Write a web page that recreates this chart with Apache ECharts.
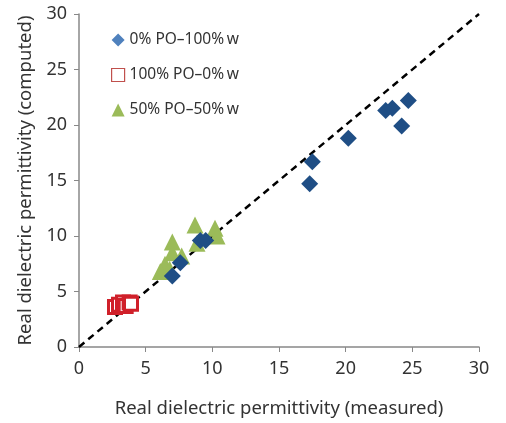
<!DOCTYPE html>
<html lang="en">
<head>
    <meta charset="UTF-8">
    <title>Real dielectric permittivity</title>
    <script src="https://cdn.jsdelivr.net/npm/echarts@6/dist/echarts.min.js"></script>
    <style>
        html, body { margin: 0; padding: 0; background: #fff; }
    </style>
</head>
<body>
<div id="chart" style="width: 506px;height:423px;"></div>

<script type="text/javascript">
    // measured, computed pairs
    var water = [
        [7.0, 6.4], [7.6, 7.6], [9.1, 9.6], [9.5, 9.6],
        [17.3, 14.7], [17.5, 16.7], [20.2, 18.8],
        [23.0, 21.3], [23.5, 21.5], [24.2, 19.9], [24.7, 22.2]
    ];
    var oil = [
        [2.7, 3.6], [3.0, 3.8], [3.3, 4.0], [3.5, 3.7], [3.8, 4.0], [3.9, 3.9]
    ];
    var mixed = [
        [8.7, 11.0], [10.2, 10.7], [10.35, 10.0], [8.85, 9.35], [7.0, 9.45],
        [7.0, 8.5], [7.7, 8.2], [6.45, 7.45], [6.1, 6.8], [6.8, 7.0]
    ];
    var parity = [[0, 0], [30, 30]];
    var names = ['0% PO\u2013100%\u2009w', '100% PO\u20130%\u2009w', '50% PO\u201350%\u2009w'];

    var chart = echarts.init(document.getElementById('chart'));
    var font = '"Noto Sans", sans-serif';

    var option = {
        animation: false,
        grid: { left: 79, right: 27, top: 14, bottom: 75 },
        legend: {
            orient: 'vertical',
            left: 106,
            top: 27,
            itemGap: 19,
            itemWidth: 13,
            itemHeight: 13,
            textStyle: { fontFamily: font, fontSize: 15.5, color: '#333' },
            data: [
                { name: names[0], icon: 'diamond', itemStyle: { color: '#4f81bd' } },
                { name: names[1], icon: 'rect', itemStyle: { color: '#fff', borderColor: '#c0504d', borderWidth: 1.2 } },
                { name: names[2], icon: 'triangle', itemStyle: { color: '#9bbb59' } }
            ]
        },
        xAxis: {
            type: 'value', min: 0, max: 30, interval: 5,
            name: 'Real dielectric permittivity (measured)',
            nameLocation: 'middle', nameGap: 52,
            nameTextStyle: { fontFamily: font, fontSize: 18.5, color: '#333' },
            axisLine: { lineStyle: { color: '#888', width: 1.5 } },
            axisTick: { inside: false, length: 5, lineStyle: { color: '#888' } },
            axisLabel: { fontFamily: font, fontSize: 18, color: '#333', margin: 13 },
            splitLine: { show: false }
        },
        yAxis: {
            type: 'value', min: 0, max: 30, interval: 5,
            name: 'Real dielectric permittivity (computed)',
            nameLocation: 'middle', nameGap: 44,
            nameTextStyle: { fontFamily: font, fontSize: 18.5, color: '#333' },
            axisLine: { show: true, lineStyle: { color: '#888', width: 1.5 } },
            axisTick: { show: true, inside: false, length: 5, lineStyle: { color: '#888' } },
            axisLabel: { fontFamily: font, fontSize: 18, color: '#333', margin: 12 },
            splitLine: { show: false }
        },
        series: [
            {
                type: 'line', data: parity, symbol: 'none', silent: true, z: 1,
                lineStyle: { color: '#000', width: 2.5, type: [7, 5] }
            },
            {
                name: names[2], type: 'scatter', data: mixed, symbol: 'triangle', symbolSize: 17,
                itemStyle: { color: '#9bbb59', opacity: 1 }, z: 2
            },
            {
                name: names[1], type: 'scatter', data: oil, symbol: 'rect', symbolSize: 13,
                itemStyle: { color: '#fff', borderColor: '#d0202a', borderWidth: 3, opacity: 1 }, z: 3
            },
            {
                name: names[0], type: 'scatter', data: water, symbol: 'diamond', symbolSize: 17,
                itemStyle: { color: '#1f4e85', opacity: 1 }, z: 4
            }
        ]
    };
    chart.setOption(option);
</script>
</body>
</html>
